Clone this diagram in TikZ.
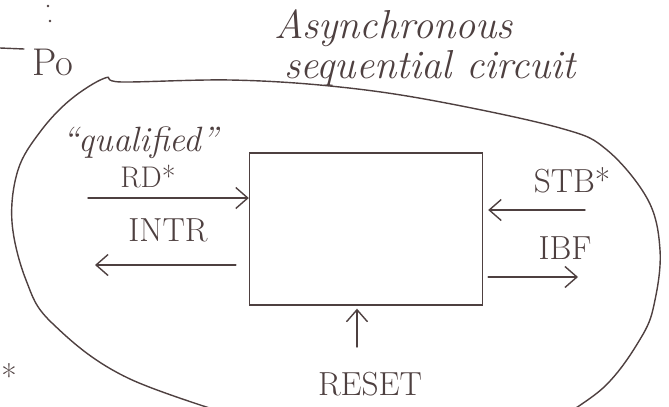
\documentclass[tikz,border=0pt]{standalone}
\usetikzlibrary{arrows.meta, positioning}
\definecolor{pencil}{RGB}{78,64,64}
\tikzset{
    sig/.style={-{Straight Barb[length=0.24cm, width=0.42cm]}},
    caps/.style={font=\fontsize{19}{23}\selectfont, inner sep=0pt},
    hand/.style={font=\fontsize{23}{28}\selectfont\itshape, inner sep=0pt},
}
\begin{document}
\begin{tikzpicture}[x=0.02cm, y=-0.02cm, pencil, line width=0.8pt, line cap=round]
    \useasboundingbox (0,0) rectangle (669,406);

    % Circuit block
    \node[draw, minimum width=4.66cm, minimum height=3.04cm, inner sep=0pt] (box) at (366,229) {};

    % Boundary of the circuit
    \draw plot[smooth, tension=0.6] coordinates {
        (280,430) (130,379) (52,323) (26,280) (12,222) (18,170) (40,132)
        (70,100) (105,78) (122,82) (230,80) (330,86) (430,100) (560,128)
        (607,150) (648,200) (660,250) (655,300) (642,336) (603,388) (540,430)};

    % Labels
    \node[hand] (title) at (394,28) {Asynchronous};
    \node[hand] (subtitle) at (430,68) {sequential circuit};
    \node[hand, font=\fontsize{20}{24}\selectfont\itshape] (qual) at (140,143) {``qualified''};
    \node[caps, font=\fontsize{17}{20}\selectfont] (rd) at (148,177) {RD*};
    \node[caps] (intr) at (168,230) {INTR};
    \node[caps] (stb) at (572,180) {STB*};
    \node[caps] (ibf) at (565,248) {IBF};
    \node[caps] (reset) at (370,384) {RESET};
    \node[caps, font=\fontsize{22}{26}\selectfont] (po) at (53,62) {Po};
    \node[caps] (star) at (9,376) {*};

    % Free ends
    \coordinate (rdin) at (88,198);
    \coordinate (introut) at (95,265);
    \coordinate (stbin) at (585,210);
    \coordinate (ibfout) at (578,277);
    \coordinate (resetin) at (357,347);
    \coordinate (postub) at (0,48);
    \coordinate (postubend) at (24,49);

    % Signals
    \draw[sig] (rdin) -- (rdin -| box.west);
    \draw[sig, shorten <=0.26cm] (introut -| box.west) -- (introut);
    \draw[sig, shorten >=0.1cm] (stbin) -- (stbin -| box.east);
    \draw[sig, shorten <=0.1cm] (ibfout -| box.east) -- (ibfout);
    \draw[sig, shorten >=0.06cm] (resetin) -- (resetin |- box.south);
    \draw (postub) -- (postubend);

    % Marks
    \fill (48,6) circle (1.3);
    \fill (50,21) circle (1.3);
\end{tikzpicture}
\end{document}
